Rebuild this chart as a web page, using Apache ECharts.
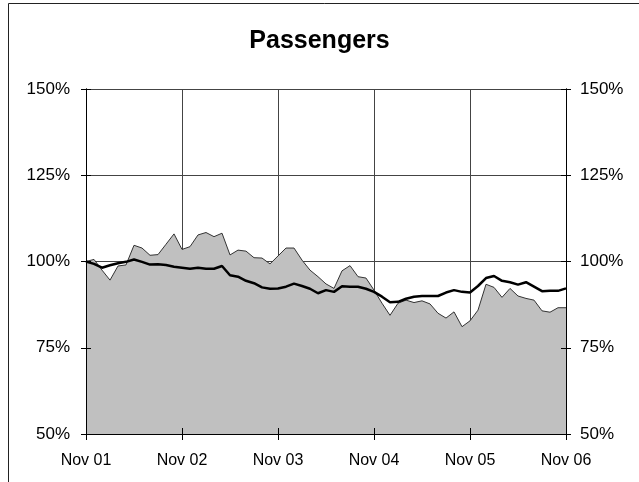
<!DOCTYPE html>
<html>
<head>
<meta charset="utf-8">
<script src="https://cdn.jsdelivr.net/npm/echarts@6/dist/echarts.min.js"></script>
<style>html,body{margin:0;padding:0;background:#fff;}#c{width:639px;height:482px;}</style>
</head>
<body>
<div id="c"></div>
<script>
var xTickLabels = ['Nov 01', 'Nov 02', 'Nov 03', 'Nov 04', 'Nov 05', 'Nov 06'];
var yTicks = [50, 75, 100, 125, 150];
// monthly index 0 = Nov 01 ... 60 = Nov 06
var areaValues = [
  100, 100.6, 97.5, 94.6, 98.7, 99, 104.7, 103.9, 101.8, 102, 105, 108,
  103.5, 104.3, 107.7, 108.4, 107.2, 108.2, 101.9, 103.3, 103, 101.1, 101, 99.3,
  101.6, 103.9, 103.9, 100.4, 97.5, 95.6, 93.5, 92.2, 97.3, 98.8, 95.6, 95.2,
  91.7, 87.9, 84.4, 87.9, 88.8, 88.1, 88.6, 87.7, 85, 83.6, 85.4, 81.1,
  82.8, 85.9, 93.4, 92.5, 89.6, 92.2, 90, 89.3, 88.8, 85.7, 85.3, 86.6,
  86.6
];
var lineValues = [
  100, 99.3, 98.2, 98.9, 99.5, 99.9, 100.6, 99.9, 99.1, 99.2, 99, 98.5,
  98.2, 97.9, 98.2, 97.9, 97.9, 98.7, 96, 95.6, 94.4, 93.7, 92.5, 92.1,
  92.2, 92.7, 93.6, 92.9, 92.1, 90.8, 91.7, 91.2, 92.8, 92.7, 92.7, 92.1,
  91.2, 89.8, 88.2, 88.3, 89.2, 89.8, 90, 90, 90, 91, 91.7, 91.2,
  91, 92.9, 95.2, 95.8, 94.4, 94, 93.3, 94, 92.7, 91.4, 91.5, 91.5,
  92.2
];
function pairs(arr){ return arr.map(function(v,i){ return [i, v]; }); }

var font = 'Liberation Sans, Arial, sans-serif';
var chart = echarts.init(document.getElementById('c'));
var gridLine = {show:true, lineStyle:{color:'#444', width:1}};
function yAx(pos, inside, labels, split){
  return {
    type:'value', min:yTicks[0], max:yTicks[yTicks.length-1], interval:25, position:pos,
    z: inside ? 10 : 0,
    axisLine:{show:true, onZero:false, lineStyle:{color:'#000', width:1}},
    axisTick:{show:true, inside:inside, length:5, lineStyle:{color:'#000'}},
    axisLabel:{show:labels, formatter:'{value}%', color:'#000', fontFamily:font, fontSize:17, margin: pos==='left'?16:14},
    splitLine: split ? gridLine : {show:false}
  };
}
function xAx(inside, labels, split){
  return {
    type:'value', min:0, max:60, interval:12, position:'bottom',
    z: inside ? 10 : 0,
    axisLine:{show:true, onZero:false, lineStyle:{color:'#000', width:1}},
    axisTick:{show:true, inside:inside, length:6, lineStyle:{color:'#000'}},
    axisLabel:{show:labels, color:'#000', fontFamily:font, fontSize:16, margin:19,
      formatter:function(v){ return xTickLabels[Math.round(v/12)]; }},
    splitLine: split ? gridLine : {show:false}
  };
}
chart.setOption({
  animation:false,
  backgroundColor:'#fff',
  title:{text:'Passengers', left:'center', top:24,
    textStyle:{fontFamily:font, fontSize:25, fontWeight:'bold', color:'#000'}},
  grid:{left:86, right:73, top:89, bottom:48, containLabel:false},
  xAxis:[xAx(false,true,true), xAx(true,false,false)],
  yAxis:[yAx('left',false,true,true), yAx('left',true,false,false), yAx('right',false,true,false), yAx('right',true,false,false)],
  graphic:[{type:'rect', shape:{x:8.5, y:3.5, width:800, height:800}, style:{fill:null, stroke:'#222', lineWidth:1}, z:100, silent:true}],
  series:[
    {type:'line', name:'Area', data:pairs(areaValues), showSymbol:false, symbol:'none',
      lineStyle:{color:'#333', width:1}, areaStyle:{color:'#c0c0c0', opacity:1, origin:'start'}, z:2},
    {type:'line', name:'Line', data:pairs(lineValues), showSymbol:false, symbol:'none',
      lineStyle:{color:'#000', width:2.5}, z:3}
  ]
});
</script>
</body>
</html>
